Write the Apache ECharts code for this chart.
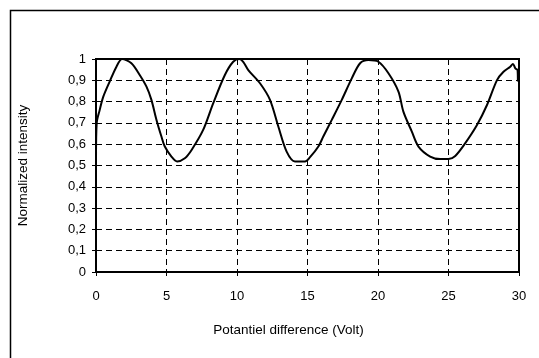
<!DOCTYPE html>
<html>
<head>
<meta charset="utf-8">
<script src="https://cdn.jsdelivr.net/npm/echarts@6/dist/echarts.min.js"></script>
<style>
  html, body { margin: 0; padding: 0; background: #fff; }
  #chart { width: 539px; height: 358px; }
</style>
</head>
<body>
<div id="chart"></div>
<script>
// potential difference (V)
const volts = [
  0, 0.05, 0.26, 0.5, 0.97, 1.45, 1.85, 2.51, 3.1, 3.58, 3.93, 4.29, 4.64, 4.88,
  5.35, 5.75, 6.3, 6.78, 7.6, 8.31, 9.14, 9.73, 10.16, 10.44, 10.8, 11.63,
  12.34, 12.93, 13.52, 14.11, 14.82, 15.18, 15.77, 16.12, 16.72, 17.43, 18.14,
  18.73, 19.32, 20.03, 20.74, 21.45, 21.8, 22.4, 22.87, 23.7, 24.41, 25.0,
  25.48, 26.19, 27.02, 27.73, 28.44, 28.9, 29.38, 29.57, 29.74, 29.9, 29.92
];
// normalized intensity
const intensity = [
  0.53, 0.70, 0.76, 0.82, 0.894, 0.964, 1.0, 0.98, 0.925, 0.87, 0.808, 0.714,
  0.636, 0.589, 0.542, 0.519, 0.534, 0.573, 0.667, 0.792, 0.925, 0.987, 1.0,
  0.987, 0.948, 0.886, 0.808, 0.683, 0.565, 0.519, 0.519, 0.539, 0.589, 0.636,
  0.714, 0.808, 0.909, 0.98, 0.995, 0.987, 0.933, 0.847, 0.753, 0.659, 0.589,
  0.542, 0.530, 0.531, 0.545, 0.605, 0.69, 0.784, 0.901, 0.940, 0.964, 0.977,
  0.956, 0.948, 0.894
];

const font = "Liberation Sans, Arial, sans-serif";
const comma = (v) => String(Math.round(v * 10) / 10).replace(".", ",");

const chart = echarts.init(document.getElementById("chart"));

chart.setOption({
  animation: false,
  textStyle: { fontFamily: font },
  graphic: [
    {
      type: "rect",
      left: 8,
      top: 8,
      shape: { width: 545, height: 360 },
      style: { fill: "none", stroke: "#000", lineWidth: 1.5 },
    },
  ],
  grid: {
    left: 96,
    right: 20,
    top: 59,
    bottom: 86,
    show: true,
    borderColor: "#000",
    borderWidth: 2,
  },
  xAxis: {
    type: "value",
    min: 0,
    max: 30,
    interval: 5,
    name: "Potantiel difference (Volt)",
    nameLocation: "middle",
    nameGap: 51,
    nameTextStyle: {
      fontSize: 13.5,
      color: "#000",
      fontFamily: font,
      padding: [0, 38, 0, 0],
    },
    axisLine: { lineStyle: { color: "#000", width: 2 } },
    axisTick: { show: true, length: 4, lineStyle: { color: "#000" } },
    axisLabel: { fontSize: 13, color: "#000", margin: 18 },
    splitLine: { show: true, lineStyle: { color: "#000", width: 1, type: [6, 4] } },
  },
  yAxis: {
    type: "value",
    min: 0,
    max: 1,
    interval: 0.1,
    name: "Normalized intensity",
    nameLocation: "middle",
    nameGap: 66,
    nameTextStyle: { fontSize: 13.5, color: "#000", fontFamily: font },
    axisLine: { show: true, lineStyle: { color: "#000", width: 2 } },
    axisTick: { show: true, length: 4, lineStyle: { color: "#000" } },
    axisLabel: { fontSize: 13, color: "#000", margin: 10, formatter: comma },
    splitLine: { show: true, lineStyle: { color: "#000", width: 1, type: [6, 4] } },
  },
  series: [
    {
      type: "line",
      data: volts.map((v, i) => [v, intensity[i]]),
      showSymbol: false,
      smooth: 0.3,
      lineStyle: { color: "#000", width: 2 },
    },
  ],
});
</script>
</body>
</html>
